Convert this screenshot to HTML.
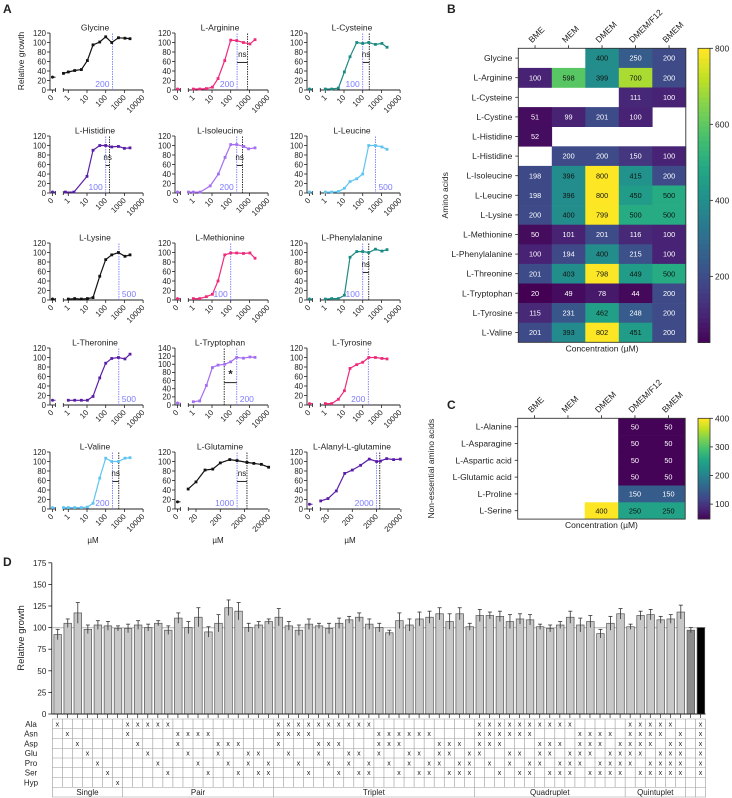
<!DOCTYPE html>
<html><head><meta charset="utf-8">
<style>
html,body{margin:0;padding:0;background:#fff;}
svg{display:block;font-family:"Liberation Sans",Arial,sans-serif;}
text{fill:#222;}
</style></head>
<body>
<svg id="fig" width="732" height="798" viewBox="0 0 732 798" xmlns="http://www.w3.org/2000/svg"></svg>
<script>
// ---------- Panel A data ----------
const stdConc = [1, 2.2, 5, 10.5, 21, 48, 100, 210, 480, 1070, 2000];
const glycineConc = [0.55, 1, 2.2, 5, 10.5, 21, 48, 100, 210, 480, 1070, 2000];
const glycineVals = [35, 38, 41, 43, 62, 95, 101, 112, 100, 110, 109, 108];
const arginineVals = [2, 2, 3, 6, 24, 62, 105, 104, 100, 97, 106];
const cysteineVals = [2, 2, 4, 38, 70, 100, 98, 100, 96, 98, 90];
const histidineConc = [0.7, 2, 10, 21, 48, 100, 210, 480, 1000, 2000];
const histidineVals = [2, 2, 35, 90, 100, 100, 97, 98, 94, 95];
const isoleucineConc = [0.55, 1, 2.3, 8, 22, 50, 100, 210, 500, 900, 2000];
const isoleucineVals = [2, 2, 2, 15, 40, 75, 102, 102, 98, 93, 95];
const leucineVals = [2, 2, 3, 10, 24, 30, 40, 100, 100, 97, 92];
const lysineVals = [2, 3, 2, 3, 5, 50, 85, 95, 100, 92, 95];
const methionineVals = [3, 3, 7, 12, 40, 95, 99, 99, 98, 99, 88];
const phenylalanineVals = [2, 3, 3, 10, 90, 102, 102, 100, 107, 103, 106];
const threonineVals = [10, 10, 10, 10, 18, 57, 88, 98, 100, 97, 107];
const tryptophanVals = [8, 10, 48, 92, 98, 100, 106, 117, 115, 118, 117];
const tyrosineVals = [3, 3, 12, 30, 77, 85, 90, 100, 100, 98, 97];
const valineConc = [0.55, 1, 2.2, 5, 10.5, 21, 48, 100, 210, 480, 1070, 2000];
const valineVals = [3, 3, 3, 3, 4, 12, 65, 107, 100, 100, 107, 108];
const glutamineConc = [9.5, 20, 47, 98, 200, 490, 980, 2500, 4800, 9800, 19500];
const glutamineVals = [42, 57, 82, 84, 97, 104, 102, 98, 96, 94, 88];
const alaglnConc = [10, 20, 44, 97, 200, 440, 1000, 2000, 2900, 5200, 10000, 19000];
const alaglnVals = [17, 22, 38, 75, 82, 92, 105, 100, 101, 106, 104, 105];
const zeroVals = [27, 2, 2, 2, 2, 2, 2, 3, 2, 10, 5, 3, 3, 15, 10];
const logTicks = [1, 10, 100, 1000, 10000];
const logTickLabels = ['1', '10', '100', '1000', '10000'];
const glnTicks = [20, 200, 2000, 20000];
const glnTickLabels = ['20', '200', '2000', '20000'];

// ---------- Panel B data ----------
const bCols = ['BME', 'MEM', 'DMEM', 'DMEM/F12', 'BMEM'];
const bRows = ['Glycine','L-Arginine','L-Cysteine','L-Cystine','L-Histidine','L-Histidine','L-Isoleucine','L-Leucine','L-Lysine','L-Methionine','L-Phenylalanine','L-Threonine','L-Tryptophan','L-Tyrosine','L-Valine'];
const bVals = [
 [null,null,400,250,200],[100,598,399,700,200],[null,null,null,111,100],[51,99,201,100,null],
 [52,null,null,null,null],[null,200,200,150,100],[198,396,800,415,200],[198,396,800,450,500],
 [200,400,799,500,500],[50,101,201,116,100],[100,194,400,215,100],[201,403,798,449,500],
 [20,49,78,44,200],[115,231,462,248,200],[201,393,802,451,200]];
const bBarTicks = [200, 400, 600, 800];
// ---------- Panel C data ----------
const cRows = ['L-Alanine','L-Asparagine','L-Aspartic acid','L-Glutamic acid','L-Proline','L-Serine'];
const cVals = [[null,null,null,50,50],[null,null,null,50,50],[null,null,null,50,50],[null,null,null,50,50],[null,null,null,150,150],[null,null,400,250,250]];
const cBarTicks = [100, 200, 300, 400];
// ---------- Panel D data ----------
const dVals = [92,105,117,98,103,102,99,99,103,100,105,97,111,100,112,95,105,123,119,100,103,107,112,102,97,104,102,99,105,109,112,
 104,100,94,108,103,110,112,116,107,116,101,114,114,113,107,110,109,101,99,103,112,103,107,93,105,116,101,114,115,109,110,118,97,100];
const dErr = [6,5,12,5,5,5,3,5,5,4,3,5,6,7,11,6,10,9,10,5,4,3,10,5,6,6,3,6,6,4,5,
 6,5,3,9,7,8,7,7,9,7,4,7,4,6,8,6,6,3,4,4,7,8,7,5,8,6,3,5,6,4,5,8,3,0];
const dTicks = [0,25,50,75,100,125,150,175];
const aminoLabels = ['Ala','Asn','Asp','Glu','Pro','Ser','Hyp'];
const groupNames = ['Single','Pair','Triplet','Quadruplet','Quintuplet'];

const NS = 'http://www.w3.org/2000/svg';
const svg = document.getElementById('fig');
function mk(parent, tag, attrs, name, txt){
  const e = document.createElementNS(NS, tag);
  for (const k in attrs) e.setAttribute(k, attrs[k]);
  
  
  if (txt !== undefined) e.textContent = txt;
  parent.appendChild(e);
  return e;
}
function grp(name){ return mk(svg, 'g', {}, name); }

// panel letters
const letters = grp('panel-letters');
mk(letters,'text',{x:3,y:13,'font-size':12,'font-weight':'bold'},'panel-a-label','A');
mk(letters,'text',{x:447,y:13,'font-size':12,'font-weight':'bold'},'panel-b-label','B');
mk(letters,'text',{x:447,y:409,'font-size':12,'font-weight':'bold'},'panel-c-label','C');
mk(letters,'text',{x:3,y:566,'font-size':12,'font-weight':'bold'},'panel-d-label','D');

// ---------- Panel A ----------
const PINK='#ee2a7b', TEAL='#1b8a83', PURP='#5a1ea6', LAV='#a56ef2', LBLUE='#5ec4f2', BLK='#111', BLUELINE='#7b7bff';
const charts = [
 {t:'Glycine',c:0,r:0,col:BLK,conc:glycineConc,vals:glycineVals,blue:230,bl:'200'},
 {t:'L-Arginine',c:1,r:0,col:PINK,conc:stdConc,vals:arginineVals,blue:220,black:800,sig:'ns',bl:'200'},
 {t:'L-Cysteine',c:2,r:0,col:TEAL,conc:stdConc,vals:cysteineVals,blue:100,black:225,sig:'ns',bl:'100'},
 {t:'L-Histidine',c:0,r:1,col:PURP,conc:histidineConc,vals:histidineVals,blue:100,black:160,sig:'ns',bl:'100'},
 {t:'L-Isoleucine',c:1,r:1,col:LAV,conc:isoleucineConc,vals:isoleucineVals,blue:210,black:430,sig:'ns',bl:'200'},
 {t:'L-Leucine',c:2,r:1,col:LBLUE,conc:stdConc,vals:leucineVals,blue:480,bl:'500',right:true},
 {t:'L-Lysine',c:0,r:2,col:BLK,conc:stdConc,vals:lysineVals,blue:510,bl:'500',right:true},
 {t:'L-Methionine',c:1,r:2,col:PINK,conc:stdConc,vals:methionineVals,blue:100,bl:'100'},
 {t:'L-Phenylalanine',c:2,r:2,col:TEAL,conc:stdConc,vals:phenylalanineVals,blue:100,black:210,sig:'ns',bl:'100'},
 {t:'L-Theronine',c:0,r:3,col:PURP,conc:stdConc,vals:threonineVals,blue:500,bl:'500',right:true},
 {t:'L-Tryptophan',c:1,r:3,col:LAV,conc:stdConc,vals:tryptophanVals,blue:210,black:45,sig:'*',bl:'200',right:true,ymax:140},
 {t:'L-Tyrosine',c:2,r:3,col:PINK,conc:stdConc,vals:tyrosineVals,blue:200,bl:'200'},
 {t:'L-Valine',c:0,r:4,col:LBLUE,conc:valineConc,vals:valineVals,blue:230,black:500,sig:'ns',bl:'200'},
 {t:'L-Glutamine',c:1,r:4,col:BLK,conc:glutamineConc,vals:glutamineVals,blue:980,black:2500,sig:'ns',bl:'1000',gln:true},
 {t:'L-Alanyl-L-glutamine',c:2,r:4,col:PURP,conc:alaglnConc,vals:alaglnVals,blue:2000,black:2700,bl:'2000',gln:true}
];
const colX = [0,125,257];
const rowY0 = [90,193,300,405,509];
charts.forEach((ch, idx) => {
  const slug = ch.t.toLowerCase().replace(/[^a-z]+/g,'-');
  const g = grp('chart-' + slug);
  const ox = colX[ch.c], y0 = rowY0[ch.r], ymax = ch.ymax || 120;
  const H = 57;
  const ys = v => y0 - v / ymax * H;
  let xs;
  if (ch.gln) { xs = c => ox + 63.3 + 7.7 + (Math.log10(c) - Math.log10(20)) * 24.3; }
  else { xs = c => ox + 68.3 + Math.log10(c) * 18.7; }
  const x1 = ox + 63.3, x2 = ox + 143;
  mk(g,'text',{x:ox+95,y:y0-H-2.5,'font-size':8.5,'text-anchor':'middle'},'chart-title',ch.t);
  // y axis
  mk(g,'line',{x1:ox+50,y1:y0,x2:ox+50,y2:y0-H,stroke:'#222','stroke-width':0.9},'y-axis');
  for (let v = 0; v <= ymax; v += 20) {
    mk(g,'line',{x1:ox+47,y1:ys(v),x2:ox+50,y2:ys(v),stroke:'#222','stroke-width':0.8},'y-tick');
    mk(g,'text',{x:ox+46,y:ys(v)+2.8,'font-size':7.8,'text-anchor':'end'},'y-tick-label',String(v));
  }
  // zero axis segment
  mk(g,'line',{x1:ox+50,y1:y0,x2:ox+55.5,y2:y0,stroke:'#222','stroke-width':0.9},'zero-axis');
  mk(g,'line',{x1:ox+52.5,y1:y0,x2:ox+52.5,y2:y0+3,stroke:'#222','stroke-width':0.8},'zero-tick');
  mk(g,'line',{x1:ox+55.5,y1:y0-2,x2:ox+55.5,y2:y0+2,stroke:'#222','stroke-width':0.8},'zero-break');
  mk(g,'text',{x:ox+54,y:y0+8,'font-size':7.8,'text-anchor':'end',transform:`rotate(-45 ${ox+54} ${y0+8})`},'x-tick-label','0');
  // main axis
  mk(g,'line',{x1:x1,y1:y0,x2:x2,y2:y0,stroke:'#222','stroke-width':0.9},'x-axis');
  mk(g,'line',{x1:x1,y1:y0-2,x2:x1,y2:y0+2,stroke:'#222','stroke-width':0.8},'x-axis-break');
  const tks = ch.gln ? glnTicks : logTicks, tls = ch.gln ? glnTickLabels : logTickLabels;
  tks.forEach((t,i) => {
    const tx = xs(t);
    mk(g,'line',{x1:tx,y1:y0,x2:tx,y2:y0+3,stroke:'#222','stroke-width':0.8},'x-tick');
    mk(g,'text',{x:tx+2,y:y0+8,'font-size':7.8,'text-anchor':'end',transform:`rotate(-45 ${tx+2} ${y0+8})`},'x-tick-label',tls[i]);
  });
  // reference lines
  const bx = xs(ch.blue);
  mk(g,'line',{x1:bx,y1:y0,x2:bx,y2:y0-H,stroke:BLUELINE,'stroke-width':0.9,'stroke-dasharray':'1.5,1'},'recommended-concentration-line');
  const lblx = ch.right ? bx + 3 : bx - 3;
  mk(g,'text',{x:lblx,y:y0-3,'font-size':8.5,'text-anchor':ch.right?'start':'end',style:'fill:'+BLUELINE},'recommended-concentration-label',ch.bl);
  if (ch.black) {
    const kx = xs(ch.black);
    mk(g,'line',{x1:kx,y1:y0,x2:kx,y2:y0-H,stroke:'#222','stroke-width':0.9,'stroke-dasharray':'1.5,1'},'medium-concentration-line');
  }
  if (ch.sig) {
    const a = Math.min(bx, xs(ch.black)), b = Math.max(bx, xs(ch.black));
    const by = ys(ch.sig === '*' ? 55 : 58);
    mk(g,'line',{x1:a,y1:by,x2:b,y2:by,stroke:'#222','stroke-width':1},'significance-bracket');
    mk(g,'text',{x:(a+b)/2,y:ys(ch.sig==='*'?68:70),'font-size':ch.sig==='*'?11:8,'font-weight':ch.sig==='*'?'bold':'normal','text-anchor':'middle'},'significance-label',ch.sig);
  }
  // zero point
  const zy = ys(zeroVals[idx]);
  mk(g,'line',{x1:ox+51,y1:zy,x2:ox+55.5,y2:zy,stroke:ch.col,'stroke-width':1},'zero-point-line');
  mk(g,'circle',{cx:ox+52.5,cy:zy,r:1.5,fill:ch.col},'zero-point');
  // series
  let d = '';
  ch.conc.forEach((c,i) => { d += (i ? 'L' : 'M') + xs(c).toFixed(1) + ',' + ys(ch.vals[i]).toFixed(1); });
  mk(g,'path',{d:d,fill:'none',stroke:ch.col,'stroke-width':1.2},'growth-line');
  ch.conc.forEach((c,i) => {
    mk(g,'rect',{x:xs(c)-1.4,y:ys(ch.vals[i])-1.4,width:2.8,height:2.8,fill:ch.col},'growth-point');
  });
  if (ch.r === 4) mk(g,'text',{x:ox+93,y:y0+34,'font-size':8,'text-anchor':'middle'},'x-axis-title','µM');
});
mk(svg,'text',{x:24,y:61,'font-size':8.5,'text-anchor':'middle',transform:'rotate(-90 24 61)'},'y-axis-title-a','Relative growth');

// ---------- viridis ----------
const vir = ['#440154','#482475','#414487','#355f8d','#2a788e','#21918c','#22a884','#44bf70','#7ad151','#bddf26','#fde725'];
function hex(h){return [1,3,5].map(i=>parseInt(h.substr(i,2),16));}
function viridis(t){
  t = Math.max(0, Math.min(1, t)); const p = t * 10, i = Math.min(9, Math.floor(p)), f = p - i;
  const a = hex(vir[i]), b = hex(vir[i+1]);
  return 'rgb(' + a.map((v,k)=>Math.round(v + (b[k]-v)*f)).join(',') + ')';
}

function heatmap(name, rows, vals, left, top, cellW, cellH, vmin, vmax, thr, barTicks, cbTop, cbBot, ytitle, ytx){
  const g = grp(name);
  const W = cellW * 5, H = cellH * rows.length;
  bCols.forEach((c,j) => {
    const cx = left + cellW*(j+0.5);
    mk(g,'line',{x1:cx,y1:top-3,x2:cx,y2:top,stroke:'#222','stroke-width':0.8},'column-tick');
    mk(g,'text',{x:cx-3,y:top-5,'font-size':8.5,transform:`rotate(-45 ${cx-3} ${top-5})`},'column-label',c);
  });
  rows.forEach((r,i) => {
    const cy = top + cellH*(i+0.5);
    mk(g,'line',{x1:left-3,y1:cy,x2:left,y2:cy,stroke:'#222','stroke-width':0.8},'row-tick');
    mk(g,'text',{x:left-6,y:cy+3,'font-size':8.5,'text-anchor':'end'},'row-label',r);
    vals[i].forEach((v,j) => {
      if (v === null) return;
      const x = left + cellW*j, y = top + cellH*i;
      mk(g,'rect',{x:x,y:y,width:cellW+0.3,height:cellH+0.3,fill:viridis((v-vmin)/(vmax-vmin))},'heatmap-cell');
      mk(g,'text',{x:x+cellW/2,y:y+cellH/2+2.6,'font-size':7.3,'text-anchor':'middle',style:'fill:'+(v>=thr?'#111':'#fff')},'cell-value',String(v));
    });
  });
  mk(g,'rect',{x:left,y:top,width:W,height:H,fill:'none',stroke:'#333','stroke-width':0.9},'heatmap-frame');
  mk(g,'text',{x:left+W/2,y:top+H+9,'font-size':8.5,'text-anchor':'middle'},'x-axis-title','Concentration (µM)');
  mk(g,'text',{x:ytx,y:top+H/2,'font-size':8.5,'text-anchor':'middle',transform:`rotate(-90 ${ytx} ${top+H/2})`},'y-axis-title',ytitle);
  // colorbar
  const cbx = 698, cbw = 12, steps = 60;
  for (let s = 0; s < steps; s++) {
    const y = cbTop + (cbBot-cbTop)*s/steps;
    mk(g,'rect',{x:cbx,y:y,width:cbw,height:(cbBot-cbTop)/steps+0.5,fill:viridis(1 - s/steps)},'colorbar-segment');
  }
  mk(g,'rect',{x:cbx,y:cbTop,width:cbw,height:cbBot-cbTop,fill:'none',stroke:'#333','stroke-width':0.8},'colorbar-frame');
  barTicks.forEach(t => {
    const y = cbBot - (t - vmin)/(vmax - vmin)*(cbBot - cbTop);
    mk(g,'line',{x1:cbx+cbw,y1:y,x2:cbx+cbw+3,y2:y,stroke:'#222','stroke-width':0.8},'colorbar-tick');
    mk(g,'text',{x:cbx+cbw+5,y:y+3,'font-size':8.5},'colorbar-label',String(t));
  });
}
heatmap('heatmap-b', bRows, bVals, 518.3, 48.3, 33.5, 19.6, 26, 800, 380, bBarTicks, 48.3, 342.5, 'Amino acids', 448);
heatmap('heatmap-c', cRows, cVals, 517.7, 418.3, 33.5, 16.8, 48, 400, 240, cBarTicks, 418.3, 519, 'Non-essential amino acids', 434);

// ---------- Panel D ----------
const gd = grp('bar-chart-d');
const d0 = 714, dpx = 0.864, dLeft = 52.3, dPitch = 10.05;
const dy = v => d0 - v * dpx;
const dx = i => dLeft + dPitch * i;
mk(gd,'line',{x1:dLeft,y1:dy(100),x2:dx(65),y2:dy(100),stroke:'#c4c4c4','stroke-width':1.2},'reference-line-100');
mk(gd,'line',{x1:dLeft-0.5,y1:d0,x2:dLeft-0.5,y2:dy(175),stroke:'#222','stroke-width':0.9},'y-axis');
dTicks.forEach(t => {
  mk(gd,'line',{x1:dLeft-4,y1:dy(t),x2:dLeft-0.5,y2:dy(t),stroke:'#222','stroke-width':0.8},'y-tick');
  mk(gd,'text',{x:dLeft-6,y:dy(t)+3,'font-size':8,'text-anchor':'end'},'y-tick-label',String(t));
});
mk(gd,'text',{x:24,y:638,'font-size':9.5,'text-anchor':'middle',transform:'rotate(-90 24 638)'},'y-axis-title','Relative growth');
dVals.forEach((v,i) => {
  const x = dx(i) + 1.6, w = 7.6;
  const fill = i === 64 ? '#000' : (i === 63 ? '#8c8c8c' : '#c8c8c8');
  mk(gd,'rect',{x:x,y:dy(v),width:w,height:v*dpx,fill:fill,stroke:'#555','stroke-width':0.7},'bar');
  if (dErr[i] > 0) {
    const cx = x + w/2;
    mk(gd,'line',{x1:cx,y1:dy(v+dErr[i]),x2:cx,y2:dy(v-dErr[i]),stroke:'#333','stroke-width':0.8},'error-bar');
    mk(gd,'line',{x1:cx-2,y1:dy(v+dErr[i]),x2:cx+2,y2:dy(v+dErr[i]),stroke:'#333','stroke-width':0.8},'error-cap');
  }
  mk(gd,'line',{x1:dx(i)+dPitch/2,y1:d0,x2:dx(i)+dPitch/2,y2:d0+4,stroke:'#222','stroke-width':0.7},'x-tick');
});
mk(gd,'line',{x1:dLeft-0.5,y1:d0,x2:dx(65),y2:d0,stroke:'#222','stroke-width':0.9},'x-axis');

// table
const gt = grp('combination-table');
const cols = [];
for (let k = 0; k < 7; k++) cols.push([k]);
function combos(n, k, start, cur, out){ if (cur.length === k){ out.push(cur.slice()); return; } for (let i = start; i < n; i++){ cur.push(i); combos(n,k,i+1,cur,out); cur.pop(); } }
const groupSizes = [7];
for (let k = 2; k <= 5; k++) { const o = []; combos(6,k,0,[],o); o.forEach(c => cols.push(c)); groupSizes.push(o.length); }
cols.push([]); cols.push([0,1,2,3,4,5]);
const tTop = 719, rH = 9.75;
aminoLabels.forEach((a,r) => {
  mk(gt,'text',{x:31,y:tTop + rH*(r+0.5) + 3,'font-size':8,'text-anchor':'middle'},'row-label-'+a.toLowerCase(),a);
});
for (let r = 0; r <= 8; r++) {
  mk(gt,'line',{x1:dLeft,y1:tTop+rH*r,x2:dx(65),y2:tTop+rH*r,stroke:'#9a9a9a','stroke-width':0.6},'table-row-line');
}
for (let i = 0; i <= 65; i++) {
  mk(gt,'line',{x1:dx(i),y1:tTop,x2:dx(i),y2:tTop+rH*7,stroke:'#9a9a9a','stroke-width':0.6},'table-column-line');
}
cols.forEach((c,i) => {
  c.forEach(r => {
    mk(gt,'text',{x:dx(i)+dPitch/2,y:tTop+rH*(r+0.5)+2.6,'font-size':7,'text-anchor':'middle'},'included-mark','x');
  });
});
let gs = 0;
groupSizes.forEach((n,gi) => {
  mk(gt,'line',{x1:dx(gs),y1:tTop+rH*7,x2:dx(gs),y2:tTop+rH*8,stroke:'#9a9a9a','stroke-width':0.6},'group-divider');
  mk(gt,'text',{x:(dx(gs)+dx(gs+n))/2,y:tTop+rH*7.5+3,'font-size':8,'text-anchor':'middle'},'group-label',groupNames[gi]);
  gs += n;
});
[gs, gs+1, gs+2].forEach(i => mk(gt,'line',{x1:dx(i),y1:tTop+rH*7,x2:dx(i),y2:tTop+rH*8,stroke:'#9a9a9a','stroke-width':0.6},'group-divider'));
</script>
</body></html>
